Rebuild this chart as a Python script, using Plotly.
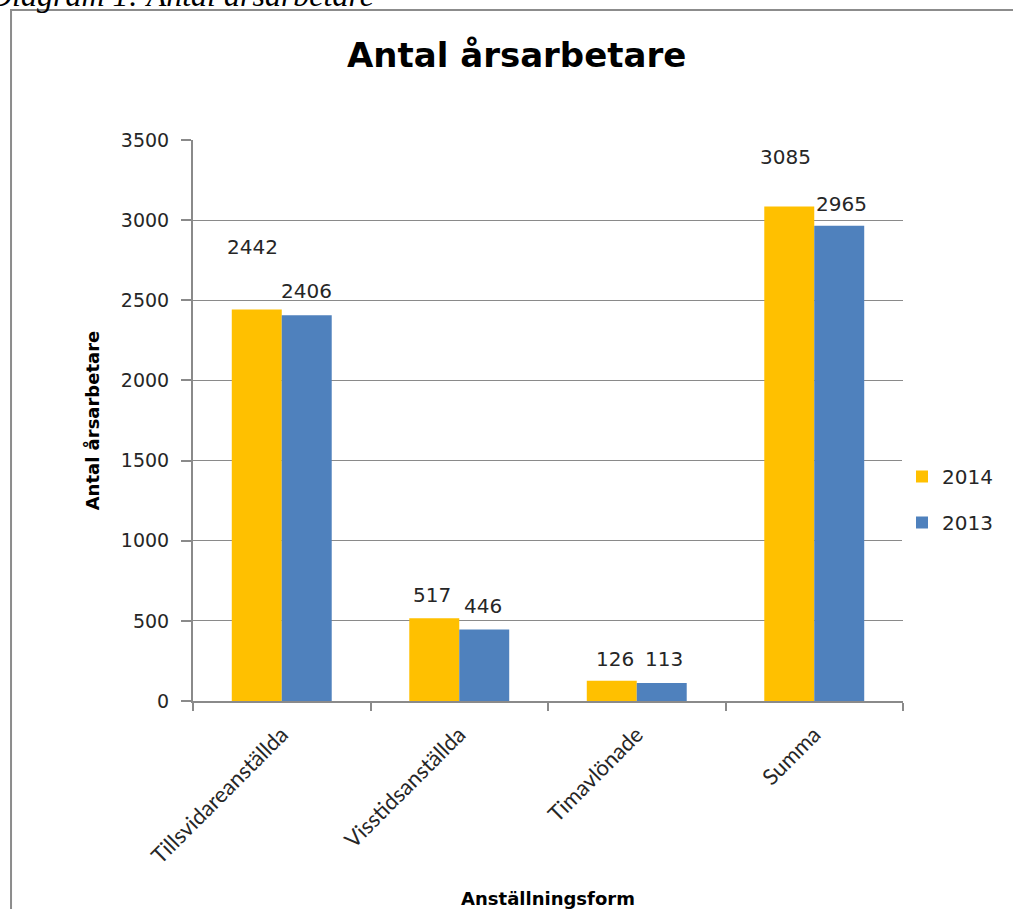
import plotly.graph_objects as go

categories = ["Tillsvidareanställda", "Visstidsanställda", "Timavlönade", "Summa"]
values_2014 = [2442, 517, 126, 3085]
values_2013 = [2406, 446, 113, 2965]
y_ticks = [0, 500, 1000, 1500, 2000, 2500, 3000, 3500]

# label offsets (pixels) – styling only
lift_2014 = [49, 9.5, 7.5, 36]
lift_2013 = [10.5, 10, 9.5, 7.5]
shift_2014 = [-29, -27, -22, -29]
shift_2013 = [25, 24, 27, 27]

C2014 = "#FFC000"
C2013 = "#4F81BD"
TXT = "#262626"

fig = go.Figure()
fig.add_trace(go.Bar(name="2014", x=categories, y=values_2014, marker_color=C2014,
                     marker_line_width=0, legendgroup="a"))
fig.add_trace(go.Bar(name="2013", x=categories, y=values_2013, marker_color=C2013,
                     marker_line_width=0, legendgroup="b"))

ann = []
for c, v, l, s in zip(categories, values_2014, lift_2014, shift_2014):
    ann.append(dict(x=c, y=v, xref="x", yref="y", text=str(v), showarrow=False,
                    yanchor="bottom", xshift=s, yshift=l,
                    font=dict(family="DejaVu Sans", size=20, color=TXT)))
for c, v, l, s in zip(categories, values_2013, lift_2013, shift_2013):
    ann.append(dict(x=c, y=v, xref="x", yref="y", text=str(v), showarrow=False,
                    yanchor="bottom", xshift=s, yshift=l,
                    font=dict(family="DejaVu Sans", size=20, color=TXT)))

# caption cut at top of page
ann.append(dict(x=-0.2915, y=1.2317, xref="paper", yref="paper", xanchor="left",
                yanchor="bottom", yshift=-5, showarrow=False,
                text="<i>Diagram 1: Antal årsarbetare</i>",
                font=dict(family="Liberation Serif", size=32, color="#000000")))
# chart title
ann.append(dict(x=0.4556, y=1.1515, xref="paper", yref="paper", xanchor="center",
                yanchor="middle", showarrow=False, text="<b>Antal årsarbetare</b>",
                font=dict(family="DejaVu Sans", size=34, color="#000000")))

fig.update_layout(
    width=1013, height=909,
    margin=dict(l=193, r=110, t=140, b=208, autoexpand=False),
    paper_bgcolor="white", plot_bgcolor="white",
    barmode="group", bargap=0.437, bargroupgap=0,
    annotations=ann,
    showlegend=True,
    legend=dict(xref="container", yref="container", x=0.8904, y=0.4505,
                xanchor="left", yanchor="middle",
                font=dict(family="DejaVu Sans", size=20, color=TXT),
                tracegroupgap=17, itemwidth=30, traceorder="grouped"),
    shapes=[dict(type="rect", xref="paper", yref="paper",
                 x0=-0.2563, x1=1.6, y0=-0.6, y1=1.2317,
                 line=dict(color="#8c8c8c", width=2), layer="below")],
)
fig.update_yaxes(range=[0, 3500], tickvals=y_ticks, ticktext=[str(t) for t in y_ticks],
                 showgrid=True, gridcolor="#8a8a8a", gridwidth=1,
                 showline=True, linecolor="#8a8a8a", linewidth=2,
                 ticks="outside", ticklen=10, tickcolor="#8a8a8a", tickwidth=2,
                 ticklabelstandoff=8, automargin=False,
                 tickfont=dict(family="DejaVu Sans", size=19, color=TXT),
                 zeroline=False,
                 title=dict(text="<b>Antal årsarbetare</b>", standoff=17,
                            font=dict(family="DejaVu Sans", size=18, color="#000000")))
fig.update_xaxes(showline=True, linecolor="#8a8a8a", linewidth=2,
                 ticks="outside", ticklen=8, tickcolor="#8a8a8a", tickwidth=2,
                 tickson="boundaries", tickangle=-45, ticklabelstandoff=10,
                 automargin=False,
                 tickfont=dict(family="Lato", size=22, color=TXT),
                 title=dict(text="<b>Anställningsform</b>", standoff=26,
                            font=dict(family="DejaVu Sans", size=18, color="#000000")))

fig.write_html("out.html", config={"displayModeBar": False},
               post_script="document.body.style.margin='0px';")
